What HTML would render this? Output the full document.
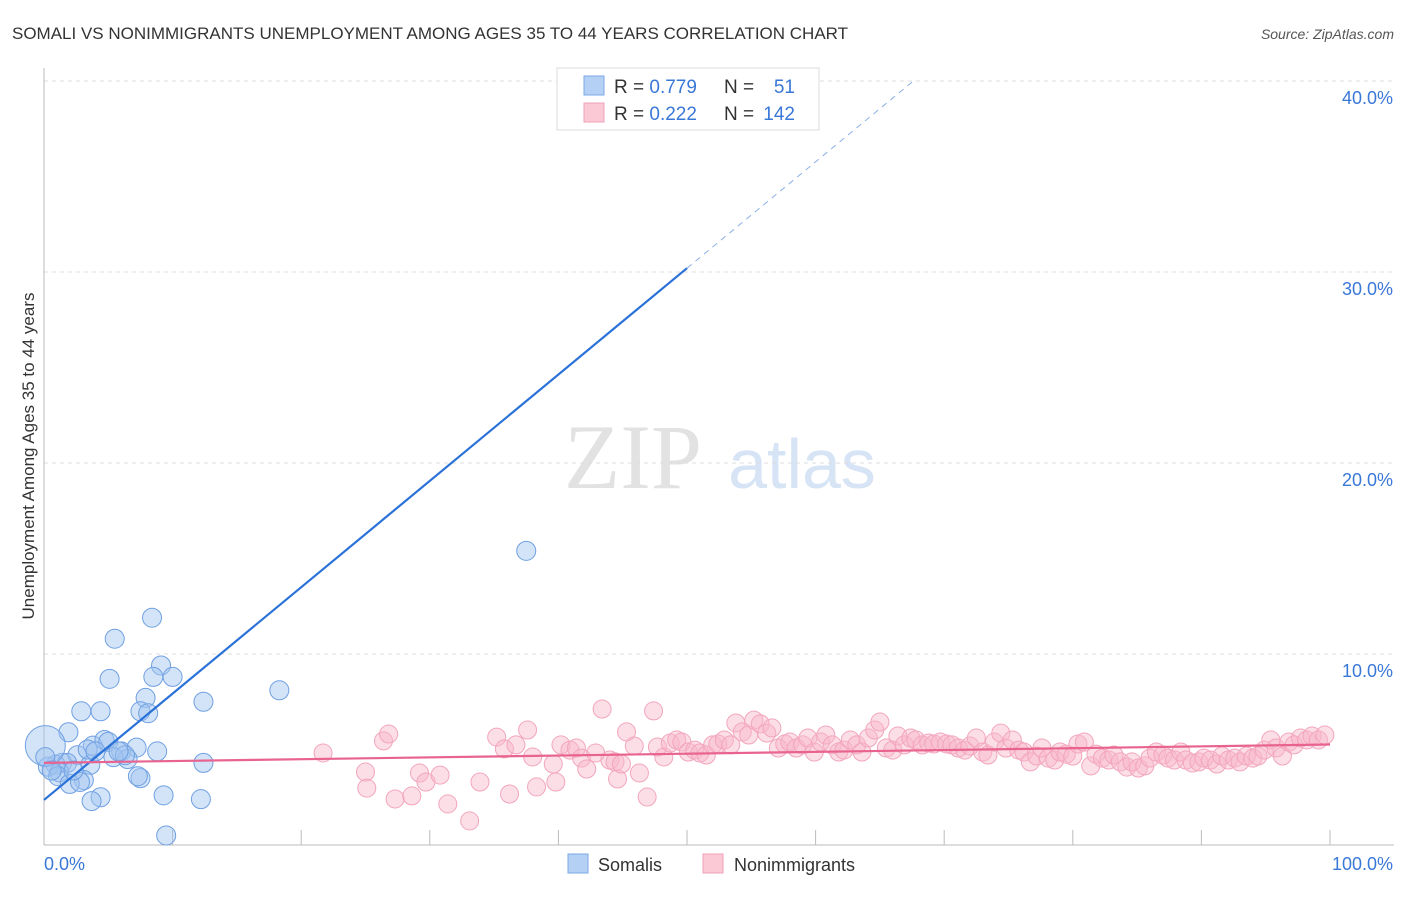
<!DOCTYPE html>
<html><head><meta charset="utf-8"><style>
body{margin:0;background:#fff;font-family:"Liberation Sans",sans-serif;}
svg text{font-family:"Liberation Sans",sans-serif;}
</style></head><body>
<svg width="1406" height="892">
<text x="12" y="39" font-size="17" fill="#333">SOMALI VS NONIMMIGRANTS UNEMPLOYMENT AMONG AGES 35 TO 44 YEARS CORRELATION CHART</text>
<text x="1394" y="39" font-size="14" fill="#555" font-style="italic" text-anchor="end">Source: ZipAtlas.com</text>
<g>
<text x="633" y="488" font-size="92" fill="#e2e2e2" text-anchor="middle" style="font-family:'Liberation Serif',serif">ZIP</text>
<text x="802" y="488" font-size="70" fill="#d6e4f5" text-anchor="middle">atlas</text>
</g>
<g id="grid"></g>
<g id="axes"></g>
<g id="pts"></g>
<g id="lines"></g>
<text transform="translate(34,456) rotate(-90)" font-size="17" fill="#333" text-anchor="middle">Unemployment Among Ages 35 to 44 years</text>
<g>
<rect x="557" y="68" width="262" height="62" fill="#fff" stroke="#ddd"/>
<rect x="584" y="76" width="20" height="19" fill="#b4d0f4" stroke="#7aa8e6"/>
<text x="614" y="93" font-size="19" fill="#333">R = <tspan fill="#3a78d8">0.779</tspan></text>
<text x="724" y="93" font-size="19" fill="#333">N =</text><text x="795" y="93" font-size="19" fill="#3a78d8" text-anchor="end">51</text>
<rect x="584" y="103" width="20" height="19" fill="#fbc8d6" stroke="#f0a0b8"/>
<text x="614" y="120" font-size="19" fill="#333">R = <tspan fill="#3a78d8">0.222</tspan></text>
<text x="724" y="120" font-size="19" fill="#333">N =</text><text x="795" y="120" font-size="19" fill="#3a78d8" text-anchor="end">142</text>
</g>
<g>
<rect x="568" y="854" width="20" height="19" fill="#b4d0f4" stroke="#7aa8e6"/>
<text x="598" y="871" font-size="18" fill="#333">Somalis</text>
<rect x="703" y="854" width="20" height="19" fill="#fbc8d6" stroke="#f0a0b8"/>
<text x="734" y="871" font-size="18" fill="#333">Nonimmigrants</text>
</g>
</svg>
<script>
const yTicks=[10,20,30,40];
const yTickLabels=["10.0%","20.0%","30.0%","40.0%"];
const xTickLabels=["0.0%","100.0%"];
const somaliX=[8.4,5.5,9.1,5.1,8.5,10.0,7.9,18.3,12.4,7.5,8.1,2.9,4.4,1.9,37.5,41.6,3.8,4.7,5.0,6.0,7.2,8.8,6.5,5.4,2.6,1.4,0.9,1.8,3.6,0.3,0.1,1.2,1.1,3.1,2.0,2.8,7.5,7.3,12.4,4.4,3.7,9.3,12.2,9.5,0.1,0.6,2.3,3.4,4.0,6.3,5.8];
const somaliY=[11.9,10.8,9.4,8.7,8.8,8.8,7.7,8.1,7.5,7.0,6.9,7.0,7.0,5.9,15.4,39.7,5.2,5.5,5.4,4.9,5.1,4.9,4.5,4.6,4.7,4.3,4.2,4.3,4.2,4.1,5.2,3.8,3.6,3.4,3.2,3.3,3.5,3.6,4.3,2.5,2.3,2.6,2.4,0.5,4.6,3.9,3.9,5.0,4.9,4.7,4.9];
const nonX=[21.7,25.0,26.4,26.8,25.1,27.3,28.6,29.2,29.7,30.8,31.4,33.1,33.9,35.2,35.8,36.2,36.7,37.6,38.0,38.3,39.6,39.8,40.2,40.9,41.4,41.8,42.2,42.9,43.4,44.0,44.4,44.6,44.9,45.3,45.9,46.3,46.9,47.4,47.7,48.2,
48.7,49.2,49.6,50.1,50.6,51.0,51.5,52.0,52.4,52.9,53.4,53.8,54.3,54.8,55.2,55.7,56.2,56.6,57.1,57.6,58.0,58.5,59.0,59.4,59.9,60.4,60.8,61.3,61.8,62.2,62.7,63.2,63.6,64.1,64.6,65.0,65.5,66.0,66.4,66.9,67.4,67.8,68.3,68.8,69.2,69.7,70.2,70.6,71.1,71.6,72.0,72.5,73.0,73.4,73.9,74.4,74.8,75.3,75.8,76.2,76.7,77.2,77.6,78.1,78.6,79.0,79.5,80.0,80.4,80.9,81.4,81.8,82.3,82.8,83.2,83.7,84.2,84.6,85.1,85.6,86.0,86.5,87.0,87.4,87.9,88.4,88.8,89.3,89.8,90.2,90.7,91.2,91.6,92.1,92.6,93.0,93.5,94.0,94.4,94.9,95.4,95.8,96.3,96.8,97.2,97.7,98.2,98.6,99.1,99.6];
const nonY=[4.82,3.82,5.45,5.81,2.98,2.41,2.57,3.77,3.30,3.66,2.15,1.26,3.30,5.65,5.03,2.67,5.24,6.02,4.61,3.04,4.24,3.30,5.24,4.97,5.08,4.55,3.98,4.82,7.12,4.45,4.35,3.46,4.24,5.92,5.18,3.77,2.51,7.02,5.13,4.61,
5.34,5.50,5.39,4.87,4.97,4.82,4.71,5.24,5.29,5.50,5.24,6.39,5.92,5.76,6.54,6.34,5.86,6.13,5.08,5.29,5.39,5.08,5.24,5.60,4.87,5.39,5.76,5.24,4.87,4.97,5.50,5.24,4.87,5.60,6.02,6.44,5.08,4.97,5.71,5.24,5.60,5.50,5.24,5.34,5.29,5.39,5.29,5.24,5.08,4.97,5.18,5.60,4.87,4.71,5.39,5.86,5.08,5.50,4.97,4.87,4.35,4.66,5.08,4.55,4.45,4.87,4.76,4.66,5.29,5.39,4.14,4.76,4.55,4.45,4.71,4.35,4.08,4.35,4.03,4.14,4.55,4.87,4.71,4.55,4.45,4.87,4.45,4.29,4.35,4.55,4.45,4.24,4.66,4.45,4.55,4.35,4.66,4.55,4.66,4.97,5.50,5.08,4.66,5.39,5.24,5.60,5.50,5.71,5.50,5.76,6.44,6.96];
const somaliTrend=[2.36,30.2];
const nonTrend=[4.3,5.26];
const NS="http://www.w3.org/2000/svg";
const X=v=>44+v*12.86, Y=v=>845-v*19.1;
function mk(tag,attrs,parent){const e=document.createElementNS(NS,tag);for(const k in attrs)e.setAttribute(k,attrs[k]);document.getElementById(parent).appendChild(e);return e;}
yTicks.forEach((t,i)=>{
 const g=mk('line',{x1:44,x2:1394,y1:Y(t),y2:Y(t),stroke:'#ddd','stroke-dasharray':'4,4'},'grid');
 
 
 const l=mk('text',{x:1393,y:Y(t)+23,'font-size':18,fill:'#3a78d8','text-anchor':'end'},'axes');
 l.textContent=yTickLabels[i];
 
 
});
const ax=mk('line',{x1:44,x2:44,y1:68,y2:845,stroke:'#bbb'},'axes');


const bx=mk('line',{x1:44,x2:1394,y1:845,y2:845,stroke:'#bbb'},'axes');


for(let i=1;i<=10;i++){const t=mk('line',{x1:X(i*10),x2:X(i*10),y1:830,y2:845,stroke:'#bbb'},'axes');
 
 }
const xl0=mk('text',{x:44,y:870,'font-size':18,fill:'#3a78d8'},'axes');xl0.textContent=xTickLabels[0];


const xl1=mk('text',{x:1393,y:870,'font-size':18,fill:'#3a78d8','text-anchor':'end'},'axes');xl1.textContent=xTickLabels[1];


for(let i=0;i<Math.min(nonX.length,nonY.length);i++){
 const c=mk('circle',{cx:X(nonX[i]),cy:Y(nonY[i]),r:9,fill:'rgba(248,182,202,0.45)',stroke:'#f2a6bd','stroke-width':1},'pts');
 
 
}
for(let i=0;i<somaliX.length;i++){
 const c=mk('circle',{cx:X(somaliX[i]),cy:Y(somaliY[i]),r:(i==30?20:9.5),fill:'rgba(160,196,240,0.45)',stroke:'#6fa0e2','stroke-width':1},'pts');
 
 
}
const slope=(somaliTrend[1]-somaliTrend[0])/50;
const s1=mk('line',{x1:X(0),y1:Y(somaliTrend[0]),x2:X(50),y2:Y(somaliTrend[1]),stroke:'#2a72d8','stroke-width':2.2},'lines');


const xe=(40-somaliTrend[0])/slope;
const s2=mk('line',{x1:X(50),y1:Y(somaliTrend[1]),x2:X(xe),y2:Y(40),stroke:'#8ab0e6','stroke-width':1,'stroke-dasharray':'6,5'},'lines');


const p1=mk('line',{x1:X(0),y1:Y(nonTrend[0]),x2:X(100),y2:Y(nonTrend[1]),stroke:'#e8638f','stroke-width':2.2},'lines');


</script>
</body></html>
